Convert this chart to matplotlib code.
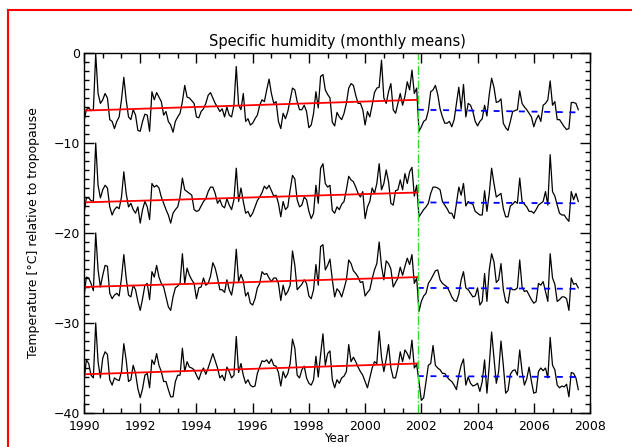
import numpy as np
import matplotlib.pyplot as plt
from matplotlib.ticker import MultipleLocator
from matplotlib.lines import Line2D

# monthly series, first value = Jan 1990
start_year = 1990.0
break_year = 2001.875

level_1 = [
    -7.6, -6.3, -6.1, -6.4, -6.3, -0.1, -4.5, -5.6, -5.2, -4.5,
    -5.0, -7.4, -7.6, -8.4, -7.6, -7.1, -5.2, -2.7, -5.2, -7.1,
    -7.4, -6.3, -6.9, -8.6, -8.7, -7.6, -6.8, -6.9, -8.7, -4.3,
    -5.2, -4.4, -4.9, -5.4, -6.9, -6.5, -7.6, -8.0, -8.8, -7.6,
    -7.1, -6.7, -5.4, -3.6, -4.9, -5.0, -5.3, -5.6, -7.1, -7.2,
    -6.5, -6.2, -5.6, -4.7, -4.4, -5.0, -5.6, -6.0, -6.5, -6.2,
    -7.1, -6.0, -6.9, -7.1, -5.8, -1.5, -5.8, -6.3, -4.5, -7.6,
    -7.3, -8.0, -7.8, -7.3, -6.9, -5.8, -5.2, -5.4, -4.1, -2.9,
    -4.5, -5.6, -5.4, -7.6, -8.4, -6.7, -7.3, -6.5, -5.2, -3.9,
    -4.1, -5.4, -6.3, -6.3, -5.8, -6.5, -8.3, -8.0, -6.7, -4.3,
    -6.1, -2.6, -2.4, -4.1, -4.6, -5.0, -7.7, -8.1, -6.6, -7.1,
    -7.4, -6.7, -5.6, -3.9, -3.4, -3.6, -4.7, -5.6, -5.6, -6.3,
    -8.0, -6.5, -7.1, -5.8, -4.4, -3.9, -3.8, -0.8, -5.0, -5.6,
    -4.3, -3.4, -6.3, -6.7, -5.6, -4.5, -5.8, -4.8, -3.2, -4.1,
    -1.9, -4.5, -3.9, -8.7, -8.2, -7.6, -7.4, -6.4, -4.3, -4.1,
    -3.6, -4.6, -6.2, -7.1, -7.8, -7.8, -7.6, -8.2, -7.4, -5.6,
    -3.8, -6.2, -3.5, -7.1, -5.6, -5.8, -6.5, -7.6, -8.1, -7.6,
    -7.3, -5.8, -7.0, -4.6, -2.8, -3.8, -5.5, -5.4, -5.1, -7.8,
    -8.3, -8.6, -7.6, -6.5, -6.4, -6.3, -4.2, -5.6, -6.0, -6.3,
    -6.7, -7.1, -8.2, -7.4, -6.9, -7.6, -5.8, -5.6, -5.2, -3.1,
    -5.8, -5.4, -7.4, -7.4, -7.8, -8.2, -8.5, -8.4, -5.5, -5.5,
    -5.6, -6.3,
]

level_2 = [
    -17.8, -16.1, -16.1, -16.4, -16.5, -10.0, -14.7, -16.1, -15.2, -14.7,
    -15.0, -17.1, -18.0, -17.4, -17.1, -17.3, -16.0, -13.2, -15.6, -17.1,
    -16.7, -17.4, -17.8, -17.1, -18.9, -17.4, -16.5, -17.1, -18.5, -14.5,
    -14.9, -14.7, -15.0, -16.0, -16.7, -17.4, -18.0, -18.9, -17.8, -17.4,
    -17.1, -16.0, -13.9, -15.2, -15.4, -15.6, -15.8, -17.4, -17.6, -17.5,
    -17.0, -16.5, -16.2, -15.4, -14.9, -14.9, -15.6, -16.7, -16.3, -17.0,
    -17.2, -16.2, -16.9, -17.4, -16.3, -12.8, -16.5, -15.0, -16.5, -17.8,
    -17.6, -18.2, -17.8, -17.1, -16.4, -16.0, -15.5, -14.8, -15.1, -14.7,
    -15.3, -15.9, -15.8, -16.7, -18.2, -16.5, -17.4, -17.1, -15.2, -13.6,
    -14.0, -16.3, -17.1, -16.9, -16.0, -16.3, -17.6, -18.4, -17.8, -14.7,
    -16.7, -12.8, -12.3, -14.5, -14.9, -14.7, -17.5, -17.8, -17.1, -17.4,
    -16.8, -16.5, -15.2, -13.7, -14.1, -14.3, -14.9, -15.6, -16.0, -15.4,
    -18.4, -17.1, -16.5, -15.0, -15.6, -14.5, -12.3, -15.2, -14.5, -13.0,
    -14.3, -16.7, -16.9, -15.3, -15.2, -14.1, -15.2, -13.4, -14.5, -13.2,
    -12.7, -15.9, -14.7, -18.2, -17.8, -17.4, -17.1, -16.7, -15.6, -14.9,
    -14.9, -15.0, -15.2, -16.5, -16.9, -17.3, -17.8, -17.8, -18.4, -16.7,
    -14.9, -15.8, -14.5, -17.0, -16.5, -16.7, -16.8, -17.6, -17.8, -18.0,
    -18.0, -15.3, -17.6, -15.6, -12.8, -14.5, -16.0, -15.8, -15.6, -17.3,
    -18.2, -18.2, -17.0, -16.8, -16.5, -16.7, -13.9, -16.5, -16.8, -17.1,
    -17.6, -17.6, -17.8, -17.4, -16.9, -16.7, -16.5, -15.4, -16.9, -11.3,
    -15.4, -15.9, -16.9, -17.8, -18.0, -18.0, -18.4, -18.7, -15.4, -16.3,
    -15.6, -16.5,
]

level_3 = [
    -27.1, -24.9, -25.0, -25.6, -26.4, -20.0, -24.1, -26.0, -24.7, -23.6,
    -23.7, -26.7, -27.3, -26.9, -26.7, -27.0, -25.0, -22.4, -25.0, -26.9,
    -27.1, -25.8, -26.3, -27.6, -28.6, -27.3, -25.8, -25.6, -27.4, -24.3,
    -24.9, -23.6, -24.9, -25.6, -26.0, -27.1, -28.2, -28.6, -27.1, -26.1,
    -25.9, -25.6, -22.3, -25.6, -23.9, -24.7, -25.2, -25.6, -27.3, -26.1,
    -26.0, -25.0, -25.8, -25.6, -24.8, -23.3, -23.9, -25.0, -26.3, -26.3,
    -26.6, -25.2, -26.3, -26.9, -25.4, -21.8, -25.4, -24.6, -25.3, -27.0,
    -26.6, -27.8, -28.0, -27.3, -26.1, -25.6, -24.3, -24.6, -24.5, -25.0,
    -25.4, -25.0, -25.0, -25.6, -27.5, -25.8, -26.9, -26.5, -25.8, -22.0,
    -23.6, -26.3, -26.0, -25.7, -25.2, -25.6, -27.0, -27.3, -26.3, -23.5,
    -25.8, -21.5, -21.3, -24.1, -23.6, -22.9, -25.2, -27.1, -26.2, -26.5,
    -27.1, -26.2, -25.2, -23.0, -23.4, -24.2, -24.5, -24.9, -25.5, -25.4,
    -27.0, -26.6, -26.3, -25.1, -24.1, -23.4, -21.0, -23.7, -25.2, -23.1,
    -23.4, -24.0, -26.0, -25.5, -25.0, -23.8, -24.7, -23.7, -22.8, -23.5,
    -22.4, -25.6, -25.0, -28.7, -27.6, -27.0, -26.7, -25.6, -25.2, -24.7,
    -24.2, -24.1, -25.2, -25.6, -25.8, -26.0, -26.5, -27.1, -27.5, -27.6,
    -26.8, -25.2, -24.3, -26.1, -26.3, -26.7, -27.1, -27.0, -26.1, -28.0,
    -27.6, -24.5, -27.6, -24.1, -22.3, -23.2, -25.5, -25.2, -23.4, -26.3,
    -27.6, -27.8, -26.1, -26.3, -26.3, -26.1, -23.0, -26.0, -26.5, -26.4,
    -26.9, -27.4, -27.8, -27.6, -25.6, -25.8, -25.4, -26.5, -27.6, -22.3,
    -25.0, -25.7, -27.6, -27.4, -27.1, -27.1, -27.3, -28.6, -25.0, -25.7,
    -25.6, -26.1,
]

level_4 = [
    -36.5, -34.1, -34.5, -35.8, -36.1, -30.0, -34.3, -36.1, -33.9, -33.2,
    -33.5, -36.3, -36.9, -36.1, -36.3, -36.4, -35.4, -32.3, -34.1, -36.5,
    -36.3, -34.7, -35.6, -37.3, -38.3, -37.3, -35.8, -35.6, -37.2, -34.1,
    -34.6, -33.4, -34.7, -35.4, -36.5, -36.5, -37.4, -38.2, -38.2, -36.5,
    -35.8, -35.8, -32.8, -35.4, -34.3, -34.9, -35.0, -35.2, -35.8, -36.3,
    -35.5, -35.0, -35.7, -35.0, -34.2, -33.4, -34.2, -35.0, -36.1, -35.8,
    -36.4, -34.9, -35.4, -36.1, -35.8, -31.5, -35.5, -34.5, -35.8, -36.7,
    -36.3, -36.9, -37.1, -37.0, -35.6, -34.9, -34.2, -34.3, -34.1, -34.5,
    -34.0, -34.7, -34.8, -35.5, -37.0, -35.4, -36.1, -35.6, -34.5, -31.8,
    -32.8, -35.8, -36.1, -35.2, -34.8, -36.1, -36.7, -36.9, -36.3, -33.7,
    -36.0, -33.5, -31.2, -34.7, -33.4, -33.1, -36.3, -37.2, -36.3, -36.7,
    -36.1, -35.9, -35.4, -32.4, -34.3, -33.8, -34.3, -34.9, -35.4, -35.8,
    -36.5, -37.2, -36.1, -35.0, -34.3, -34.5, -30.9, -33.8, -35.4, -34.0,
    -32.4, -35.0, -36.1, -36.1, -34.9, -33.2, -34.3, -33.0, -33.4, -34.0,
    -31.9, -35.0, -34.6, -36.5, -38.6, -38.3, -36.5, -34.7, -34.5, -32.5,
    -34.7, -35.0, -35.2, -35.6, -35.6, -36.0, -36.3, -36.5, -36.9, -37.4,
    -35.8, -34.7, -34.0, -36.9, -36.0, -36.7, -37.0, -36.9, -36.7, -37.6,
    -36.5, -34.1, -37.8, -34.7, -31.0, -33.9, -36.7, -35.4, -32.0, -34.7,
    -37.8, -37.5, -35.7, -35.3, -35.2, -35.8, -33.0, -35.4, -36.9, -36.2,
    -34.9, -36.5, -37.8, -37.7, -35.4, -35.0, -35.3, -35.0, -36.1, -31.6,
    -34.7, -35.2, -36.9, -37.2, -37.0, -37.1, -36.8, -38.2, -35.5, -35.6,
    -36.1, -37.4,
]

# trend lines (before / after the break)
red_start = [-6.4, -16.6, -26.0, -35.7]
red_end = [-5.2, -15.5, -24.9, -34.5]
blue_start = [-6.3, -16.6, -26.1, -35.9]
blue_end = [-6.6, -16.7, -26.2, -36.0]


def main():
    fig = plt.figure(figsize=(6.32, 4.47), dpi=100)
    ax = fig.add_axes([84/632, 1-413/447, 506/632, 360/447])

    for series, r0, r1, b0, b1 in zip([level_1, level_2, level_3, level_4],
                                      red_start, red_end, blue_start, blue_end):
        t = start_year + np.arange(len(series))/12.0
        ax.plot(t, series, color='black', lw=0.9)
        ax.plot([start_year, break_year], [r0, r1], color='red', lw=1.3)
        ax.plot([break_year, t[-1]], [b0, b1], color='blue', lw=1.3, dashes=(3.3, 3.7))

    ax.axvline(break_year, color='#33dd33', lw=1.0, linestyle='-.')

    ax.set_xlim(1990, 2008)
    ax.set_ylim(-40, 0)
    ax.xaxis.set_major_locator(MultipleLocator(2))
    ax.xaxis.set_minor_locator(MultipleLocator(2/3))
    ax.yaxis.set_major_locator(MultipleLocator(10))
    ax.yaxis.set_minor_locator(MultipleLocator(1))
    ax.tick_params(which='both', direction='in', top=True, right=True, width=1.0)
    ax.tick_params(which='major', length=7, labelsize=9)
    ax.tick_params(which='minor', length=3.5)
    ax.tick_params(axis='x', pad=5)
    ax.tick_params(axis='y', pad=3)
    for s in ax.spines.values():
        s.set_linewidth(1.0)

    ax.set_title('Specific humidity (monthly means)', fontsize=10.5, pad=5)
    ax.set_xlabel('Year', fontsize=8.5, labelpad=-1)
    ax.set_ylabel('Temperature [\u00b0C] relative to tropopause', fontsize=9, labelpad=10)

    # red frame lines at the left and top edge of the page
    fig.add_artist(Line2D([8/632, 8/632], [0, 1-10/447], color='red', lw=1.5))
    fig.add_artist(Line2D([8/632, 1], [1-10/447, 1-10/447], color='red', lw=1.5))

    fig.savefig('out.png', dpi=100)


if __name__ == '__main__':
    main()
